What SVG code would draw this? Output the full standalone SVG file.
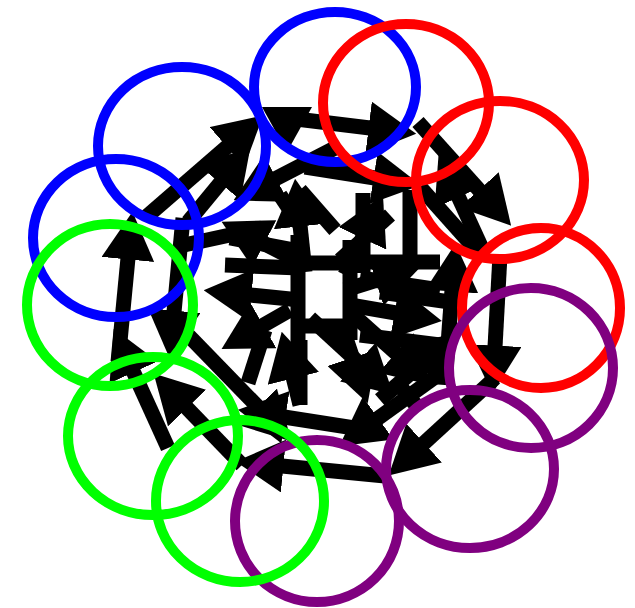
<svg xmlns="http://www.w3.org/2000/svg" width="635" height="608" viewBox="0 0 635 608">
<style>
.e{fill:none;stroke-width:10}
.b{stroke:#0000ff}.r{stroke:#ff0000}.g{stroke:#00ff00}.p{stroke:#800080}
.a{stroke:#000;stroke-width:15;fill:none;marker-end:url(#ah)}
.l{stroke:#000;stroke-width:15;fill:none}
</style>
<defs>
<marker id="ah" viewBox="0 0 10 11" refX="0.3" refY="5.5" markerWidth="3.2" markerHeight="3.52" orient="auto" markerUnits="strokeWidth">
<path d="M0,0 L10,5.5 L0,11 z" fill="#000"/>
</marker>
</defs>
<g id="connectors">
<line class="a" x1="145" y1="218" x2="228" y2="146"/>
<line class="a" x1="188" y1="222" x2="221" y2="182"/>
<line class="a" x1="288" y1="118" x2="370" y2="128"/>
<polygon points="262,107 312,107 287,152" fill="#000"/>
<line class="a" x1="418" y1="122" x2="480" y2="191"/>
<line class="a" x1="485" y1="255" x2="458" y2="196"/>
<line class="l" x1="420" y1="187" x2="478" y2="252"/>
<line class="a" x1="500" y1="255" x2="495" y2="347"/>
<line class="a" x1="495" y1="378" x2="423" y2="444"/>
<line class="a" x1="385" y1="476" x2="282" y2="466"/>
<line class="a" x1="242" y1="465" x2="186" y2="407"/>
<line class="a" x1="168" y1="448" x2="133" y2="371"/>
<line class="a" x1="118" y1="362" x2="128" y2="258"/>
<line class="a" x1="183" y1="218" x2="174" y2="312"/>
<line class="a" x1="188" y1="335" x2="259" y2="408"/>
<line class="a" x1="380" y1="432" x2="284" y2="417"/>
<line class="a" x1="305" y1="167" x2="375" y2="178"/>
<line class="a" x1="335" y1="148" x2="275" y2="179"/>
<line class="l" x1="184" y1="245" x2="262" y2="228"/>
<line class="a" x1="305" y1="272" x2="300" y2="225"/>
<line class="a" x1="345" y1="275" x2="363" y2="237"/>
<line class="a" x1="300" y1="300" x2="250" y2="295"/>
<line class="l" x1="363" y1="273" x2="363" y2="193"/>
<line class="a" x1="300" y1="405" x2="293" y2="377"/>
<line class="a" x1="290" y1="310" x2="262" y2="326"/>
<line class="l" x1="265" y1="330" x2="248" y2="383"/>
<line class="a" x1="340" y1="320" x2="353" y2="359"/>
<line class="a" x1="350" y1="312" x2="397" y2="354"/>
<line class="a" x1="345" y1="290" x2="377" y2="280"/>
<line class="a" x1="300" y1="262" x2="263" y2="243"/>
<line class="a" x1="445" y1="370" x2="377" y2="419"/>
<line class="a" x1="445" y1="385" x2="452" y2="290"/>
<line class="l" x1="225" y1="265" x2="300" y2="268"/>
<line class="a" x1="350" y1="305" x2="396" y2="313"/>
<line class="l" x1="370" y1="262" x2="440" y2="262"/>
<line class="a" x1="310" y1="318" x2="359" y2="363"/>
<line class="a" x1="380" y1="400" x2="421" y2="364"/>
<line class="l" x1="380" y1="292" x2="450" y2="302"/>
<line class="l" x1="360" y1="335" x2="440" y2="345"/>
<line class="l" x1="230" y1="238" x2="305" y2="252"/>
<line class="l" x1="300" y1="340" x2="300" y2="405"/>
<line class="l" x1="280" y1="195" x2="300" y2="225"/>
<line class="l" x1="335" y1="230" x2="300" y2="190"/>
<line class="l" x1="340" y1="260" x2="390" y2="215"/>
<line class="l" x1="395" y1="380" x2="420" y2="410"/>
<line class="l" x1="298" y1="235" x2="298" y2="345"/>
<line class="l" x1="350" y1="240" x2="350" y2="340"/>
<line class="l" x1="292" y1="263" x2="356" y2="263"/>
<line class="l" x1="292" y1="326" x2="356" y2="326"/>
<line class="l" x1="410" y1="190" x2="410" y2="263"/>
<line class="l" x1="360" y1="278" x2="440" y2="290"/>
</g>
<g id="n1"><ellipse class="e b" cx="335" cy="87" rx="81" ry="75"/></g>
<g id="n2"><ellipse class="e b" cx="182" cy="146" rx="84" ry="79"/></g>
<g id="n3"><ellipse class="e b" cx="116" cy="238" rx="83" ry="79"/></g>
<g id="n4"><ellipse class="e r" cx="406" cy="103" rx="83" ry="79"/></g>
<g id="n5"><ellipse class="e r" cx="500" cy="180" rx="84" ry="79"/></g>
<g id="n6"><ellipse class="e r" cx="541" cy="308" rx="79" ry="80"/></g>
<g id="n7"><ellipse class="e p" cx="531" cy="368" rx="82" ry="80"/></g>
<g id="n8"><ellipse class="e p" cx="470" cy="469" rx="84" ry="79"/></g>
<g id="n9"><ellipse class="e p" cx="317" cy="521" rx="82" ry="81"/></g>
<g id="n10"><ellipse class="e g" cx="240" cy="501" rx="84" ry="81"/></g>
<g id="n11"><ellipse class="e g" cx="153" cy="436" rx="85" ry="79"/></g>
<g id="n12"><ellipse class="e g" cx="110" cy="305" rx="83" ry="81"/></g>
</svg>
